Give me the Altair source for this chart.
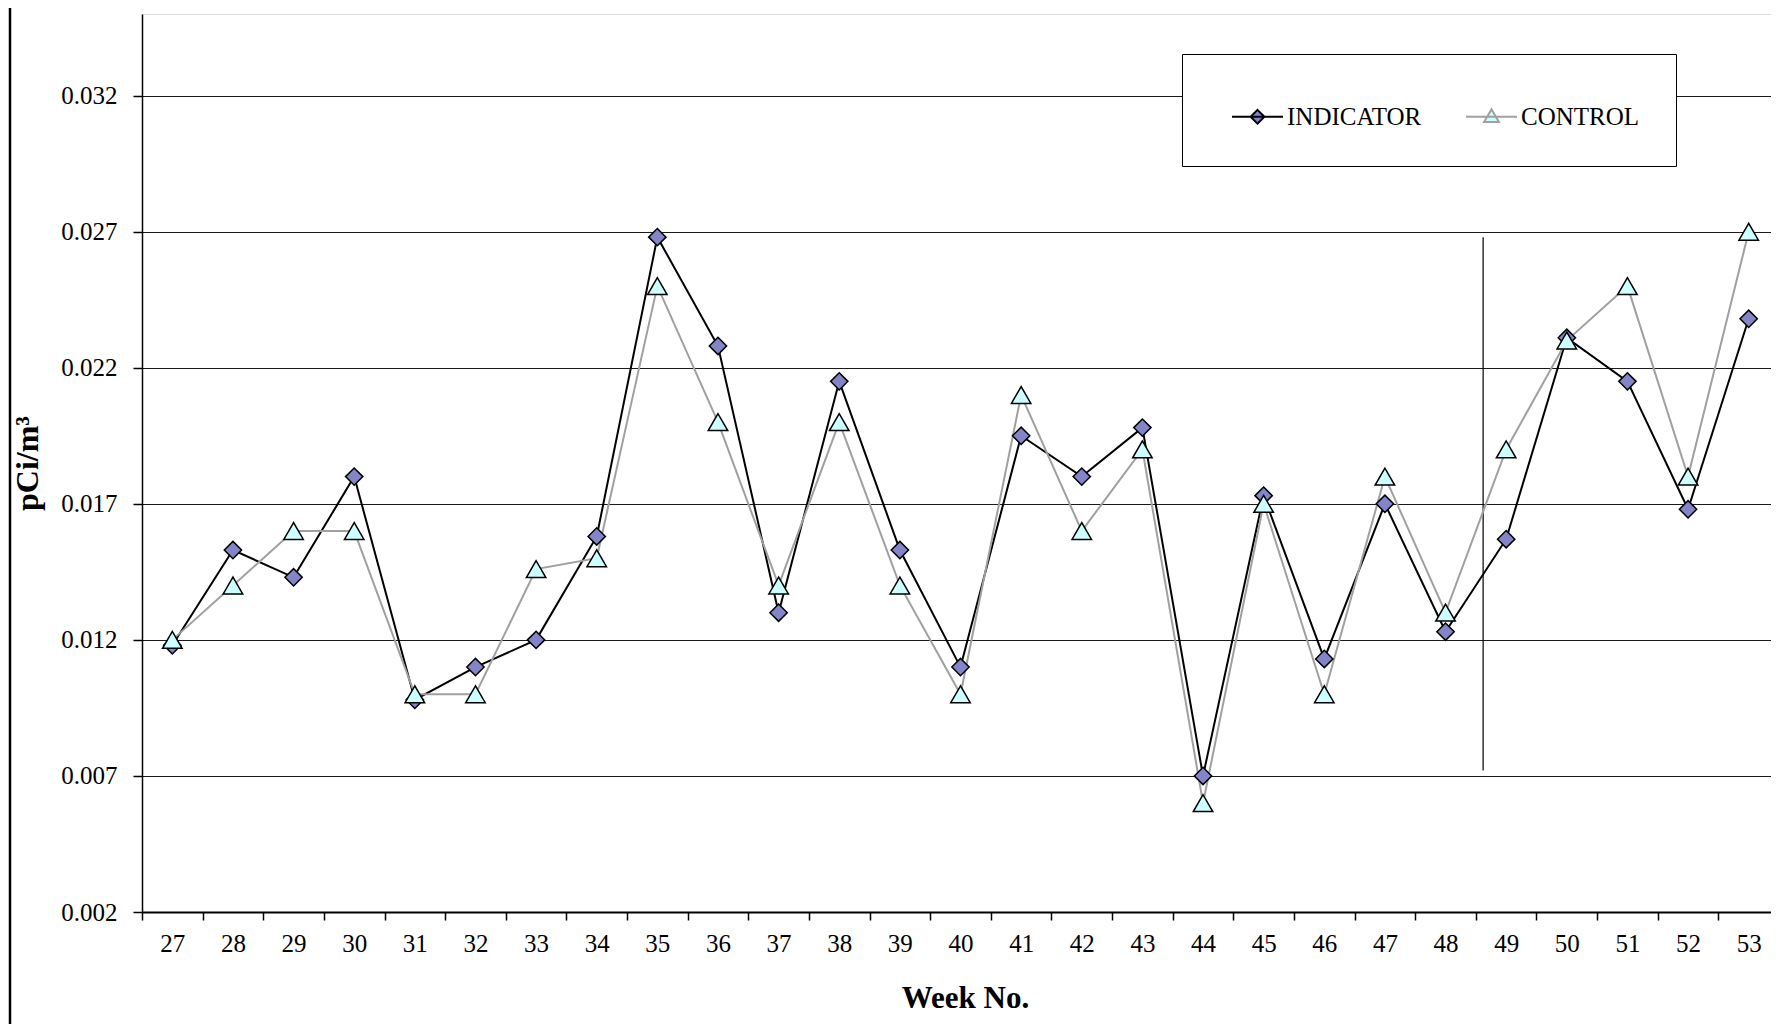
import altair as alt
import pandas as pd

weeks = list(range(27, 54))
indicator = [0.0118, 0.0153, 0.0143, 0.0180, 0.0098, 0.0110, 0.0120, 0.0158, 0.0268, 0.0228,
             0.0130, 0.0215, 0.0153, 0.0110, 0.0195, 0.0180, 0.0198, 0.0070, 0.0173, 0.0113,
             0.0170, 0.0123, 0.0157, 0.0231, 0.0215, 0.0168, 0.0238]
control = [0.0120, 0.0140, 0.0160, 0.0160, 0.0100, 0.0100, 0.0146, 0.0150, 0.0250, 0.0200,
           0.0140, 0.0200, 0.0140, 0.0100, 0.0210, 0.0160, 0.0190, 0.0060, 0.0170, 0.0100,
           0.0180, 0.0130, 0.0190, 0.0230, 0.0250, 0.0180, 0.0270]
series_names = ["INDICATOR", "CONTROL"]
y_ticks = [0.002, 0.007, 0.012, 0.017, 0.022, 0.027, 0.032]
divider_week = [49]
divider_top = [0.0268]
divider_bottom = [0.0072]

rows = []
for w, v in zip(weeks, indicator):
    rows.append({"week": w, "value": v, "series": "INDICATOR"})
for w, v in zip(weeks, control):
    rows.append({"week": w, "value": v, "series": "CONTROL"})
df = pd.DataFrame(rows)
div_df = pd.DataFrame({"week": divider_week, "top": divider_top, "bottom": divider_bottom})

FONT = "Liberation Serif"
W, H = 1637, 898
STEP = W / len(weeks)

xenc = alt.X("week:O", title="Week No.",
             scale=alt.Scale(paddingInner=0, paddingOuter=0),
             axis=alt.Axis(labelAngle=0, labelAlign="center", tickOffset=-STEP / 2,
                           labelOffset=STEP / 2,
                           tickSize=8, tickColor="black",
                           tickWidth=1.5, domainColor="black", domainWidth=2,
                           labelFont=FONT, labelFontSize=25, labelColor="black", labelPadding=23,
                           titleFont=FONT, titleFontSize=31, titleFontWeight="bold",
                           titleColor="black", titlePadding=27, grid=False,
                           titleX=823))
yscale = alt.Scale(domain=[0.002, 0.035], nice=False, zero=False)
yaxis = alt.Axis(values=y_ticks, format=".3f", tickSize=9, tickColor="black", tickWidth=1.5,
                 domainColor="black", domainWidth=1.5, labelFont=FONT, labelFontSize=25,
                 labelColor="black", labelPadding=16, grid=True, gridColor="#1a1a1a",
                 gridWidth=1.2, titleFont=FONT, titleFontSize=32, titleFontWeight="bold",
                 titleColor="black", titlePadding=16)

line_path = "M-0.49,0 L1.51,0"
ind_sym = line_path + " M0.51,-0.27 L0.78,0 L0.51,0.27 L0.24,0 Z"
con_sym = line_path + " M0.51,-0.29 L0.8,0.21 L0.22,0.21 Z"

legend = alt.Legend(title=None, orient="none", legendX=1040, legendY=40, direction="horizontal",
                    padding=36, strokeColor="black", fillColor="white",
                    labelFont=FONT, labelFontSize=25, labelColor="black",
                    symbolSize=2601, symbolStrokeWidth=2, columnPadding=30, labelOffset=16,
                    symbolType=alt.ExprRef(expr=f"datum.value == 'INDICATOR' ? '{ind_sym}' : '{con_sym}'"),
                    symbolFillColor=alt.ExprRef(expr="datum.value == 'INDICATOR' ? '#8484c8' : '#ccffff'"))

lines = alt.Chart(df).mark_line(strokeWidth=2).encode(
    x=xenc,
    y=alt.Y("value:Q", title="pCi/m³", scale=yscale, axis=yaxis),
    stroke=alt.Stroke("series:N", scale=alt.Scale(domain=series_names, range=["#000000", "#a0a0a0"]),
                      legend=legend),
    detail="series:N",
)

ind_points = alt.Chart(df).transform_filter(alt.datum.series == "INDICATOR").mark_point(
    filled=True, shape="diamond", size=300, fill="#8484c8", stroke="black", strokeWidth=1.5, opacity=1
).encode(x=alt.X("week:O"), y=alt.Y("value:Q"))

con_points = alt.Chart(df).transform_filter(alt.datum.series == "CONTROL").mark_point(
    filled=True, shape="triangle-up", size=380, fill="#ccffff", stroke="black", strokeWidth=1.5, opacity=1
).encode(x=alt.X("week:O"), y=alt.Y("value:Q"))

divider = alt.Chart(div_df).mark_rule(color="black", strokeWidth=1.2).encode(
    x=alt.X("week:O", bandPosition=0.12),
    y=alt.Y("top:Q"),
    y2="bottom:Q",
)

frame = alt.Chart(div_df).mark_rule(color="black", strokeWidth=2.5).encode(
    x=alt.value(-132), y=alt.value(-6), y2=alt.value(H + 112)
)

chart = alt.layer(divider, lines, ind_points, con_points, frame).properties(
    width=W, height=H,
    autosize=alt.AutoSizeParams(type="none"),
    padding={"left": 134, "top": 6, "right": -8, "bottom": 112},
).configure_view(stroke="black", strokeWidth=1.5).configure(background="white")

chart.save("out.html", embed_options={"renderer": "svg", "actions": False})
